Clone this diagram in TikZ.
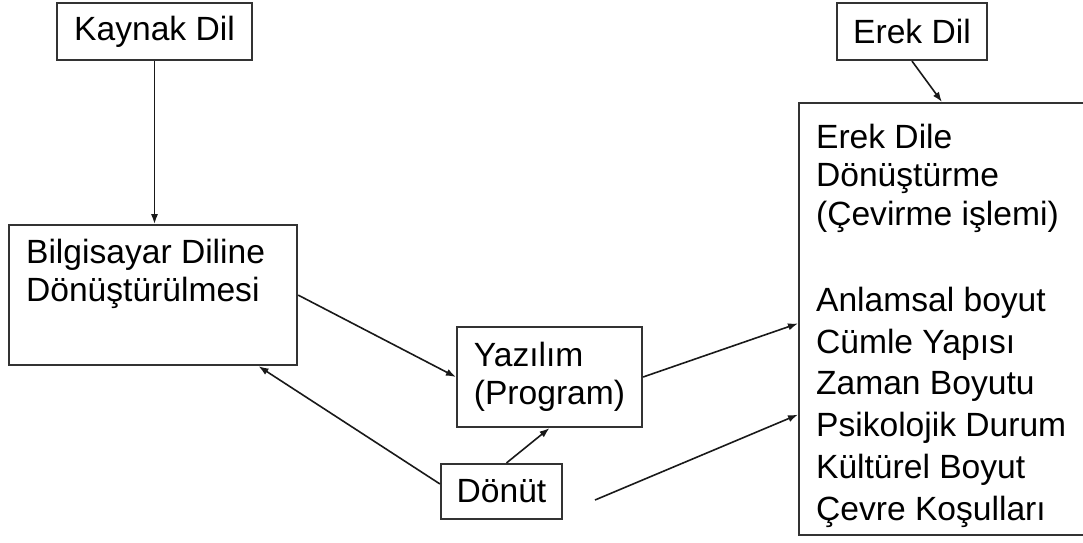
\documentclass[tikz,border=0pt]{standalone}
\usepackage{fontspec}
\setmainfont{Liberation Sans}
\usetikzlibrary{arrows.meta,calc}

\begin{document}
\begin{tikzpicture}[
    x = 0.5pt, y = -0.5pt,
    every node/.style = {font=\fontsize{16.8pt}{19.25pt}\selectfont, text=black},
    box/.style        = {draw=black!80, line width=1.1pt, inner sep=0pt},
    arrow/.style      = {draw=black!90, line width=0.8pt, -{Latex[length=5pt,width=3.6pt]}}
  ]
\useasboundingbox (0,0) rectangle (1083,542);
% source and target language
\node[box, minimum width=97.5pt, minimum height=28.5pt] (kaynak) at (154.5,31.5) {Kaynak Dil};
\node[box, minimum width=75pt, minimum height=28.5pt] (erek) at (912,31.5) {Erek Dil};
% steps of the translation
\node[box, anchor=north west, inner xsep=8.5pt, inner ysep=7pt] (bilgi) at (8,224)
  {\parbox[t][56pt][t]{127pt}{\raggedright Bilgisayar Diline\\ Dönüştürülmesi}};
\node[box, align=left, minimum width=92.5pt, minimum height=50pt] (yazilim) at (549.5,377) {Yazılım\\ (Program)};
\node[box, minimum width=60.5pt, minimum height=27.5pt] (donut) at (501.5,491.5) {Dönüt};
\node[box, anchor=north west, inner xsep=8.5pt, inner ysep=10.5pt] (cevirme) at (798,102)
  {\parbox[t][195pt][t]{131.5pt}{\raggedright Erek Dile\\ Dönüştürme\\ (Çevirme işlemi)\par
   \vspace{22pt}\fontsize{16.8pt}{20.9pt}\selectfont
   Anlamsal boyut\\ Cümle Yapısı\\ Zaman Boyutu\\ Psikolojik Durum\\ Kültürel Boyut\\ Çevre Koşulları\par}};
\coordinate (serbest) at (595,500);

\draw[arrow] (kaynak.south) -- (kaynak.south |- bilgi.north);
\draw[arrow] (bilgi.east) -- (yazilim.west);
\draw[arrow] (donut.173) -- (bilgi.-34);
\draw[arrow] (donut.80) -- (yazilim.south);
\draw[arrow] (yazilim.east) -- ($(cevirme.north west)!0.51!(cevirme.south west)$);
\draw[arrow] (serbest) -- ($(cevirme.north west)!0.72!(cevirme.south west)$);
\draw[arrow] (erek.south) -- ([xshift=72pt]cevirme.north west);
\end{tikzpicture}
\end{document}
